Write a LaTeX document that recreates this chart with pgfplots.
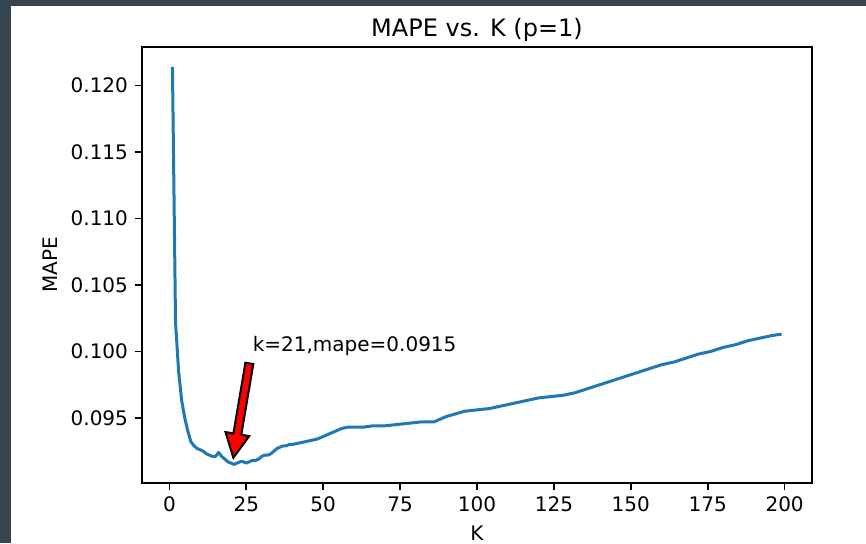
\documentclass[border=0pt]{standalone}
\usepackage{fontspec}
\setmainfont{DejaVu Sans}
\usepackage{pgfplots}
\pgfplotsset{compat=1.18}
\usetikzlibrary{calc}
\definecolor{mplblue}{HTML}{1F77B4}
\definecolor{darkframe}{RGB}{54,69,79}

% k, mape
\pgfplotstableread{
k mape
1 0.1214
2 0.1022
3 0.0985
4 0.0963
5 0.0950
6 0.0940
7 0.0932
8 0.0929
9 0.0927
10 0.0926
11 0.0925
12 0.0923
13 0.0922
14 0.0921
15 0.0921
16 0.0924
17 0.0921
18 0.0919
19 0.0917
20 0.0916
21 0.0915
22 0.0916
23 0.0917
24 0.0917
25 0.0916
26 0.0917
27 0.0918
28 0.0918
29 0.0919
30 0.0921
31 0.0922
32 0.0922
33 0.0923
34 0.0925
35 0.0927
36 0.0928
37 0.0929
38 0.0929
39 0.0930
40 0.0930
42 0.0931
44 0.0932
46 0.0933
48 0.0934
50 0.0936
52 0.0938
54 0.0940
56 0.0942
58 0.0943
60 0.0943
63 0.0943
66 0.0944
70 0.0944
74 0.0945
78 0.0946
82 0.0947
86 0.0947
88 0.0949
90 0.0951
93 0.0953
96 0.0955
100 0.0956
104 0.0957
108 0.0959
112 0.0961
116 0.0963
120 0.0965
124 0.0966
128 0.0967
132 0.0969
136 0.0972
140 0.0975
144 0.0978
148 0.0981
152 0.0984
156 0.0987
160 0.0990
164 0.0992
168 0.0995
172 0.0998
176 0.1000
180 0.1003
184 0.1005
188 0.1008
192 0.1010
196 0.1012
199 0.1013
}\mapedata

\begin{document}
\begin{tikzpicture}
% dark frame on the left and top edges
\fill[darkframe] (-71pt,-30pt) rectangle (362pt,241.5pt);
\fill[white] (-65.5pt,-30pt) rectangle (362pt,238.5pt);
\useasboundingbox (-71pt,-30pt) rectangle (362pt,241.5pt);
\begin{axis}[
    at={(0,0)}, anchor=south west,
    scale only axis, width=335pt, height=218pt,
    xmin=-8.9, xmax=208.9,
    ymin=0.0901, ymax=0.1229,
    xtick={0,25,50,75,100,125,150,175,200},
    ytick={0.095,0.100,0.105,0.110,0.115,0.120},
    scaled y ticks=false,
    yticklabel style={/pgf/number format/fixed, /pgf/number format/fixed zerofill,
        /pgf/number format/precision=3},
    /pgf/number format/assume math mode=true,
    tick pos=left, tick align=outside,
    major tick length=3.5pt,
    tick style={line width=0.8pt, black},
    axis line style={line width=0.8pt},
    title={MAPE vs. K (p=1)},
    every axis title shift=0pt,
    title style={at={(axis description cs:0.5,1)}, anchor=base, yshift=5.5pt,
        font=\fontsize{12}{14}\selectfont},
    xlabel={K},
    xlabel style={at={(axis description cs:0.5,0)}, anchor=north, yshift=-21.5pt, inner sep=0pt},
    ylabel={MAPE},
    ylabel style={at={(axis description cs:-0.1373,0.5)}, anchor=center},
]
\addplot[mplblue, line width=1.5pt, line join=round] table[x=k, y=mape] {\mapedata};
\node[anchor=base west, inner sep=0pt] at (axis cs:27,0.1) {k=21,mape=0.0915};
\coordinate (A) at (axis cs:26.0,0.0991);
\coordinate (B) at (axis cs:20.8,0.0920);
\end{axis}
\coordinate (C) at ($(B)!12pt!(A)$);
\filldraw[fill=red, draw=black, line width=1pt, line join=miter]
    ($(A)!2pt!90:(B)$) -- ($(C)!2pt!90:(B)$) -- ($(C)!6pt!90:(B)$) -- (B)
    -- ($(C)!6pt!-90:(B)$) -- ($(C)!2pt!-90:(B)$) -- ($(A)!2pt!-90:(B)$) -- cycle;
\end{tikzpicture}
\end{document}
